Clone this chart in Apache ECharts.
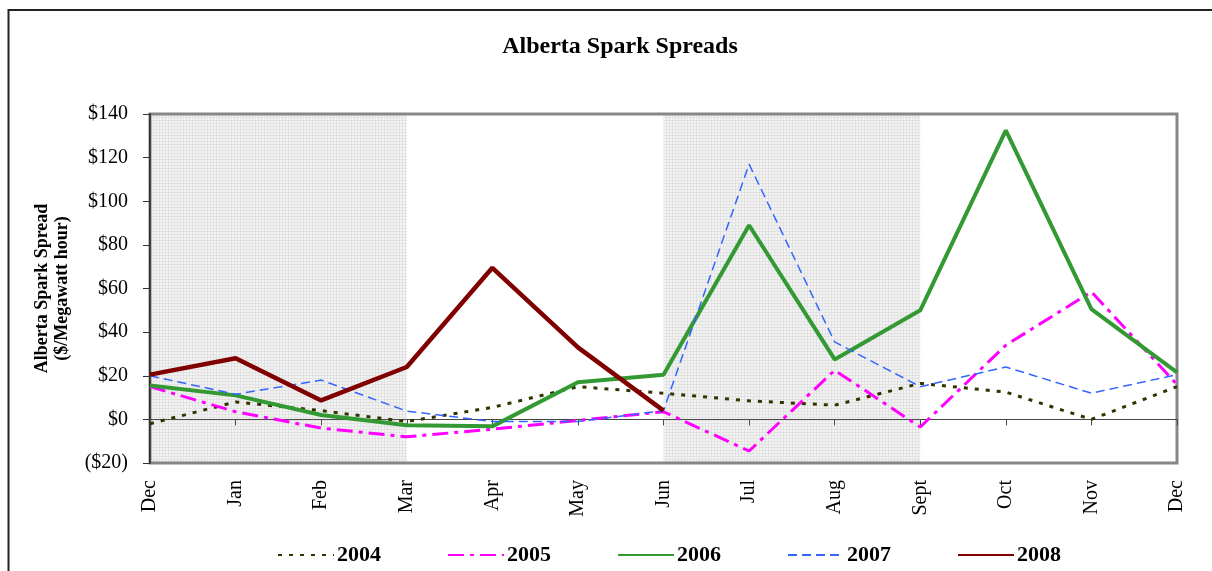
<!DOCTYPE html>
<html>
<head>
<meta charset="utf-8">
<script src="https://cdn.jsdelivr.net/npm/echarts@6/dist/echarts.min.js"></script>
<style>
  html, body { margin: 0; padding: 0; background: #fff; }
  #chart { width: 1212px; height: 571px; }
</style>
</head>
<body>
<div id="chart"></div>
<script>
// months, first Dec to next Dec
const months = ["Dec", "Jan", "Feb", "Mar", "Apr", "May", "Jun", "Jul", "Aug", "Sept", "Oct", "Nov", "Dec"];

const y2004 = [-2, 8, 4, -1, 5.5, 15, 12, 8.5, 6.5, 16.5, 12.5, 0, 15];
const y2005 = [15, 3.5, -4, -8, -4.5, -0.5, 3.5, -14.5, 22.5, -3.5, 34, 58.5, 16];
const y2006 = [15.5, 11, 2, -2.7, -3.2, 17, 20.5, 89, 27.5, 50, 132.5, 50.5, 21.5];
const y2007 = [20, 11.5, 18, 3.8, -1, -1, 4, 117, 35.5, 15, 24, 12, 20.5];
const y2008 = [20.5, 28, 8.7, 24, 69.5, 33, 4];

// shaded month ranges (index into months)
const shaded = [[0, 3], [6, 9]];

const serif = "'Liberation Serif', 'Times New Roman', serif";

// little grid pattern for the shaded bands
const pat = document.createElement("canvas");
pat.width = 3;
pat.height = 3;
const pctx = pat.getContext("2d");
pctx.fillStyle = "rgba(130,130,130,0.09)";
pctx.fillRect(0, 0, 3, 3);
pctx.fillStyle = "rgba(120,120,120,0.15)";
pctx.fillRect(0, 0, 3, 1);
pctx.fillRect(0, 1, 1, 2);

const chart = echarts.init(document.getElementById("chart"));

const lineSeries = (name, data, color, width, dash) => ({
  name: name,
  type: "line",
  data: data,
  showSymbol: false,
  symbol: "none",
  smooth: false,
  color: color,
  lineStyle: { color: color, width: width, type: dash, cap: "butt" },
  emphasis: { disabled: true },
});

chart.setOption({
  animation: false,
  title: {
    text: "Alberta Spark Spreads",
    left: 615,
    top: 30,
    textAlign: "center",
    textStyle: { fontFamily: serif, fontSize: 24, fontWeight: "bold", color: "#000" },
  },
  graphic: [
    {
      type: "rect",
      shape: { x: 8.5, y: 10, width: 1400, height: 800 },
      style: { fill: null, stroke: "#222", lineWidth: 2 },
      silent: true,
    },
  ],
  legend: {
    data: ["2004", "2005", "2006", "2007", "2008"],
    left: 272,
    top: 539,
    itemWidth: 56,
    itemHeight: 14,
    itemGap: 66,
    itemStyle: { opacity: 0, borderWidth: 0 },
    textStyle: { fontFamily: serif, fontSize: 22, fontWeight: "bold", color: "#000", padding: [0, 0, 0, -2] },
  },
  grid: {
    left: 150,
    right: 35,
    top: 114,
    bottom: 108,
    show: true,
    borderColor: "#888",
    borderWidth: 3,
    backgroundColor: "transparent",
  },
  xAxis: [
    {
      type: "category",
      data: months,
      boundaryGap: false,
      position: "bottom",
      axisLine: { show: false, onZero: false },
      axisTick: { show: false },
      axisLabel: {
        rotate: 90,
        margin: 17,
        interval: 0,
        fontFamily: serif,
        fontSize: 20,
        color: "#000",
      },
      splitLine: { show: false },
    },
    {
      type: "category",
      data: months,
      boundaryGap: false,
      position: "top",
      axisLine: { show: true, onZero: true, lineStyle: { color: "#444", width: 1 } },
      axisTick: { show: true, inside: true, length: 6, interval: 0, lineStyle: { color: "#444" } },
      axisLabel: { show: false },
      splitLine: { show: false },
    },
  ],
  yAxis: {
    type: "value",
    min: -20,
    max: 140,
    interval: 20,
    name: "Alberta Spark Spread\n($/Megawatt hour)",
    nameLocation: "middle",
    nameGap: 78,
    nameTextStyle: { fontFamily: serif, fontSize: 18, fontWeight: "bold", color: "#000", lineHeight: 20 },
    axisLine: { show: true, lineStyle: { color: "#333", width: 2 } },
    axisTick: { show: true, length: 7, lineStyle: { color: "#333" } },
    axisLabel: {
      margin: 22,
      fontFamily: serif,
      fontSize: 20,
      color: "#000",
      formatter: (v) => (v < 0 ? "($" + -v + ")" : "$" + v),
    },
    splitLine: { show: false },
  },
  series: [
    lineSeries("2004", y2004, "#333300", 3, [4, 7]),
    lineSeries("2005", y2005, "#ff00ff", 3, [16, 6, 4, 6]),
    lineSeries("2006", y2006, "#339933", 4, "solid"),
    lineSeries("2007", y2007, "#3366ff", 1.5, [9, 5]),
    lineSeries("2008", y2008, "#800000", 4.5, "solid"),
    {
      name: "shade",
      type: "line",
      data: [],
      z: 10,
      silent: true,
      markArea: {
        silent: true,
        itemStyle: { color: { image: pat, repeat: "repeat" } },
        data: shaded.map((r) => [{ xAxis: r[0] }, { xAxis: r[1] }]),
      },
    },
  ],
});
</script>
</body>
</html>
